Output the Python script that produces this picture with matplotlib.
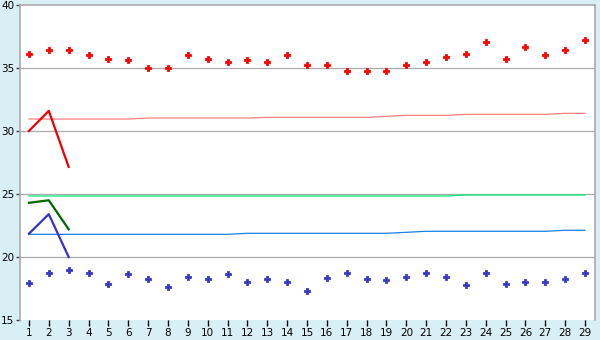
import numpy as np
import matplotlib.pyplot as plt

days = list(range(1, 30))

# scatter series
red_points = [36.1, 36.4, 36.4, 36.0, 35.7, 35.6, 35.0, 35.0, 36.0, 35.7,
              35.5, 35.6, 35.45, 36.0, 35.2, 35.2, 34.8, 34.75, 34.8, 35.2,
              35.45, 35.85, 36.1, 37.05, 35.7, 36.7, 36.0, 36.4, 37.2]
blue_points = [17.9, 18.7, 18.95, 18.7, 17.85, 18.65, 18.25, 17.6, 18.4, 18.25,
               18.65, 18.0, 18.25, 18.0, 17.3, 18.3, 18.7, 18.25, 18.15, 18.4,
               18.7, 18.4, 17.75, 18.7, 17.85, 18.0, 18.0, 18.25, 18.7]

# trend lines
pink_line = [30.95] * 6 + [31.03] * 6 + [31.08] * 6 + [31.16] + [31.24] * 3 + [31.32] * 5 + [31.4] * 2
lightgreen_line = [24.84] * 22 + [24.92] * 7
lightblue_line = [21.8] * 11 + [21.88] * 8 + [21.96] + [22.04] * 7 + [22.12] * 2

# short lines, first 3 days
short_days = [1, 2, 3]
red_short = [30.0, 31.6, 27.15]
green_short = [24.3, 24.5, 22.2]
blue_short = [21.85, 23.4, 20.0]

bg = '#d9eff6'
fig = plt.figure(figsize=(6, 3.4), dpi=100, facecolor=bg)
ax = fig.add_axes([20 / 600, 20 / 340, 575 / 600, 315 / 340])
ax.set_facecolor('white')

for y in [20, 25, 30, 35]:
    ax.axhline(y, color='#aaaaaa', lw=0.9, zorder=1)

ax.plot(days, pink_line, color='#ff8080', lw=0.9, zorder=2)
ax.plot(days, lightgreen_line, color='#00ee77', lw=0.9, zorder=2)
ax.plot(days, lightblue_line, color='#1a7fe6', lw=0.9, zorder=2)

ax.plot(short_days, red_short, color='#ee0000', lw=1.6, zorder=3)
ax.plot(short_days, green_short, color='#006600', lw=1.6, zorder=3)
ax.plot(short_days, blue_short, color='#3333cc', lw=1.6, zorder=3)

ax.plot(days, red_points, 'P', color='#ff0000', ms=4, mew=0.6, ls='none', zorder=4)
ax.plot(days, blue_points, 'P', color='#3838c8', ms=4, mew=0.6, ls='none', zorder=4)

ax.set_xlim(0.55, 29.5)
ax.set_ylim(15, 40)
ax.set_xticks(days)
ax.set_yticks([15, 20, 25, 30, 35, 40])

ax.tick_params(axis='x', direction='out', length=4, width=1, color='black',
               labelsize=7.5, pad=1.5)
ax.tick_params(axis='y', direction='out', length=3, width=1, color='#444444',
               labelsize=7.5, pad=1)

for side in ['top', 'right', 'left']:
    ax.spines[side].set_color('#aaaaaa')
    ax.spines[side].set_linewidth(1.2)
ax.spines['bottom'].set_visible(False)

fig.savefig('out.png', dpi=100, facecolor=bg)
